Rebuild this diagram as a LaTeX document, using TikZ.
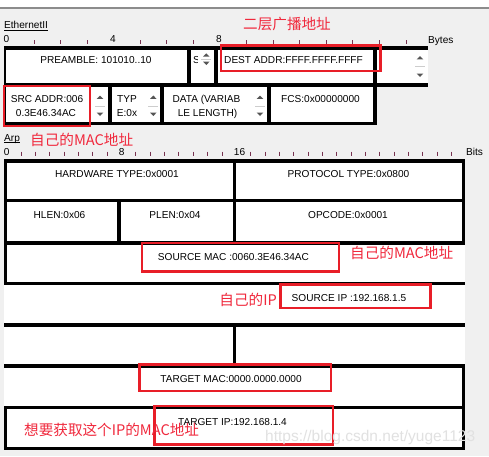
\documentclass[tikz,border=0pt]{standalone}
\usepackage{fontspec}
\setmainfont{Liberation Sans}
\newfontfamily\cjk{Noto Sans CJK SC}
\definecolor{bgc}{RGB}{240,240,240}
\definecolor{topline}{RGB}{140,140,140}
\definecolor{boxred}{RGB}{232,30,40}
\definecolor{notered}{RGB}{240,40,60}
\definecolor{tickc}{RGB}{120,50,80}
\definecolor{spinc}{RGB}{85,85,85}
\definecolor{sepc}{RGB}{205,205,205}
\definecolor{wmc}{RGB}{225,225,225}
\newcommand\mySpin[4]{%
  \fill[spinc] (#1-3.3,#2+1.7) -- (#1+3.3,#2+1.7) -- (#1,#2-1.7) -- cycle;
  \fill[spinc] (#1-3.3,#3-1.7) -- (#1+3.3,#3-1.7) -- (#1,#3+1.7) -- cycle;
  \draw[sepc, line width=0.6pt] (#1-5,#4) -- (#1+5,#4);}
\begin{document}
\begin{tikzpicture}[x=1pt,y=-1pt,
  lbl/.style={font=\fontsize{10.1}{12}\selectfont, inner sep=0pt, anchor=base},
  note/.style={font=\cjk\fontsize{14.6}{16}\selectfont, text=notered, inner sep=0pt, anchor=base west},
  redbox/.style={draw=boxred, line width=2.3pt},
  tickmark/.style={draw=tickc, line width=0.9pt},
  ulined/.style={line width=0.8pt}]
\useasboundingbox (0,0) rectangle (489,456);
\fill[bgc] (0,0) rectangle (489,456);
\fill[white] (0,0) rectangle (489,7.3);
\fill[topline] (0,7.3) rectangle (489,8.7);

% ---------- Ethernet II ----------
\node[lbl, anchor=base west] (ethlbl) at (4,28.5) {EthernetII};
\draw[ulined] ([yshift=-1.6pt]ethlbl.base west) -- ([yshift=-1.6pt]ethlbl.base east);
\node[lbl] (e0) at (6.5,42.7) {0};
\node[lbl] (e4) at (113,42.7) {4};
\node[lbl] (e8) at (219,42.7) {8};
\node[lbl, anchor=base west] (ebytes) at (428,43) {Bytes};
\foreach \n in {1,2,3,5,6,7,9,10,11,12,13,14,15}
  \draw[tickmark] ({7.4+26.57*\n},40) -- ({7.4+26.57*\n},44);

\fill[black] (3.5,46) rectangle (377,125);
\fill[black] (377,46) rectangle (428,49.5);
\fill[black] (377,83.3) rectangle (428,87.3);
\fill[white] (5.5,49.5) rectangle (187,83.3);
\fill[white] (191,49.5) rectangle (213.5,83.3);
\fill[white] (217.5,49.5) rectangle (373,83.3);
\fill[white] (377,49.5) rectangle (428,83.3);
\fill[white] (5.5,87.3) rectangle (108,121.5);
\fill[white] (112,87.3) rectangle (160,121.5);
\fill[white] (163.5,87.3) rectangle (267,121.5);
\fill[white] (271,87.3) rectangle (373,121.5);

\node[lbl] (pre) at (96,63.6) {PREAMBLE: 101010..10};
\begin{scope}
  \clip (191,50) rectangle (197.5,83);
  \node[lbl, anchor=base west] (sfd) at (193,63.6) {S};
\end{scope}
\node[lbl] (dest) at (293.5,63.6) {DEST ADDR:FFFF.FFFF.FFFF};
\node[lbl] (srcA) at (47,102.8) {SRC ADDR:006};
\node[lbl] (srcB) at (46,116) {0.3E46.34AC};
\node[lbl] (typA) at (127,102.8) {TYP};
\node[lbl] (typB) at (127,116) {E:0x};
\node[lbl] (datA) at (206.5,102.8) {DATA (VARIAB};
\node[lbl] (datB) at (207.5,116) {LE LENGTH)};
\node[lbl] (fcs) at (320.5,102.8) {FCS:0x00000000};

\mySpin{206.3}{55}{63.3}{59.3}
\mySpin{420}{57.7}{75.3}{66}
\mySpin{100}{97.2}{114.3}{106}
\mySpin{153.3}{97.2}{114.3}{106}
\mySpin{260}{97.2}{114.3}{106}

% ---------- ARP ----------
\node[lbl, anchor=base west] (arplbl) at (4,141) {Arp};
\draw[ulined] ([yshift=-1.8pt]arplbl.base west) -- ([yshift=-1.8pt]arplbl.base east);
\node[lbl] (a0) at (6.7,155.7) {0};
\node[lbl] (a8) at (121.7,155.7) {8};
\node[lbl] (a16) at (239.5,155.7) {16};
\node[lbl, anchor=base west] (abits) at (466,155.7) {Bits};
\foreach \n in {1,...,7,9,10,...,15,17,18,...,31}
  \draw[tickmark] ({6.7+14.35*\n},151.5) -- ({6.7+14.35*\n},156);

\fill[white] (4,159) rectangle (465,450);
\foreach \ya/\yb in {159/162.5, 198.5/202, 241/244.5, 281.7/285, 323.3/326.7, 364.3/368, 405.7/409.3, 446.7/450}
  \fill[black] (4,\ya) rectangle (465,\yb);
\fill[black] (4,159) rectangle (6.7,285);
\fill[black] (4,405.7) rectangle (6.7,450);
\fill[black] (462.3,159) rectangle (465,244.5);
\fill[black] (462.3,364.3) rectangle (465,450);
\fill[black] (232.5,159) rectangle (236.3,244.5);
\fill[black] (232.5,323.3) rectangle (236.3,368);
\fill[black] (117.3,198.5) rectangle (120.7,244.5);

\node[lbl] (hw) at (117,177.3) {HARDWARE TYPE:0x0001};
\node[lbl] (proto) at (348.5,177.3) {PROTOCOL TYPE:0x0800};
\node[lbl] (hlen) at (59.5,218.3) {HLEN:0x06};
\node[lbl] (plen) at (175,218.3) {PLEN:0x04};
\node[lbl] (opc) at (348,218.3) {OPCODE:0x0001};
\node[lbl] (smac) at (233.5,260) {SOURCE MAC :0060.3E46.34AC};
\node[lbl] (sip) at (349,301) {SOURCE IP :192.168.1.5};
\node[lbl] (tmac) at (231,382.7) {TARGET MAC:0000.0000.0000};
\node[lbl] (tip) at (232.5,425) {TARGET IP:192.168.1.4};

% ---------- annotations ----------
\draw[redbox] (221.2,45.5) rectangle (380.5,71.2);
\draw[redbox] (4.3,86.3) rectangle (90.3,126);
\draw[redbox] (141.8,243.2) rectangle (338.8,271.5);
\draw[redbox] (280.5,284.5) rectangle (430.5,308.3);
\draw[redbox] (139.5,364.5) rectangle (331.2,391.2);
\draw[redbox] (154.5,406.2) rectangle (332.8,444.5);

\node[note] (n1) at (243,29.5) {二层广播地址};
\node[note] (n2) at (30,145.8) {自己的MAC地址};
\node[note] (n3) at (350,258.8) {自己的MAC地址};
\node[note, anchor=base east] (n4) at (277,305.8) {自己的IP};
\node[note] (n5) at (24,435.2) {想要获取这个IP的MAC地址};

\node[anchor=base west, inner sep=0pt, font=\fontsize{15.5}{18}\selectfont, text=wmc] (wm) at (265,441) {https://blog.csdn.net/yuge1123};
\end{tikzpicture}
\end{document}
